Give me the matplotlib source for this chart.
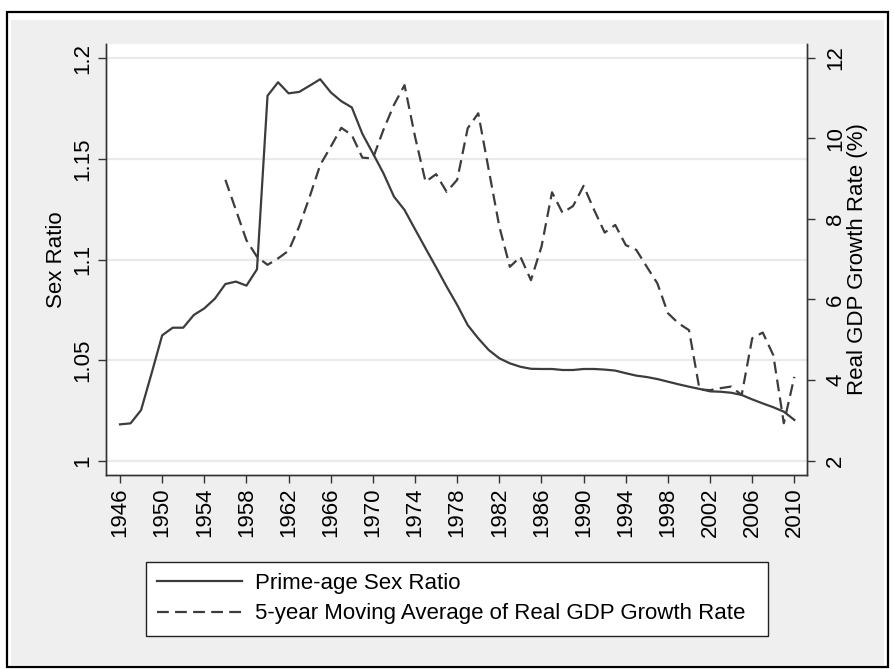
import numpy as np
import matplotlib
matplotlib.use("Agg")
import matplotlib.pyplot as plt
from matplotlib.patches import Rectangle
from matplotlib.lines import Line2D

plt.rcParams['font.family'] = ['Liberation Sans', 'DejaVu Sans']
plt.rcParams['lines.scale_dashes'] = False

years = list(range(1946, 2011))
sex_ratio = [1.0182, 1.0187, 1.0253, 1.0436, 1.0624, 1.0662, 1.0662, 1.0725, 1.0758, 1.0806,
             1.0879, 1.0891, 1.0871, 1.0952, 1.1814, 1.1881, 1.1826, 1.1833, 1.1864, 1.1896,
             1.1831, 1.1787, 1.1756, 1.1625, 1.1528, 1.1429, 1.1313, 1.1247, 1.1151, 1.1056,
             1.0962, 1.0866, 1.0775, 1.0675, 1.0609, 1.0551, 1.0510, 1.0485, 1.0468, 1.0458,
             1.0457, 1.0457, 1.0452, 1.0452, 1.0457, 1.0457, 1.0454, 1.0449, 1.0436, 1.0424,
             1.0417, 1.0407, 1.0394, 1.0381, 1.0369, 1.0358, 1.0346, 1.0344, 1.0339, 1.0328,
             1.0306, 1.0286, 1.0267, 1.0245, 1.0204]
gdp_years = list(range(1956, 2011))
gdp_ma5 = [8.97, 8.22, 7.47, 7.06, 6.86, 7.02, 7.21, 7.81, 8.55, 9.34,
           9.79, 10.26, 10.08, 9.52, 9.50, 10.21, 10.83, 11.32, 10.04, 8.92,
           9.11, 8.67, 8.97, 10.25, 10.62, 9.21, 7.81, 6.81, 7.06, 6.48,
           7.31, 8.66, 8.15, 8.32, 8.82, 8.22, 7.66, 7.85, 7.35, 7.23,
           6.81, 6.40, 5.66, 5.41, 5.24, 3.77, 3.75, 3.80, 3.84, 3.63,
           5.04, 5.18, 4.62, 2.93, 4.08]
x_ticks = list(range(1946, 2011, 4))
left_ticks = [1, 1.05, 1.1, 1.15, 1.2]
left_tick_labels = ["1", "1.05", "1.1", "1.15", "1.2"]
right_ticks = [2, 4, 6, 8, 10, 12]
label_left = "Sex Ratio"
label_right = "Real GDP Growth Rate (%)"
series_names = ["Prime-age Sex Ratio", "5-year Moving Average of Real GDP Growth Rate"]

W, H = 894, 669
fig = plt.figure(figsize=(W / 100, H / 100), dpi=100)
fig.patch.set_facecolor('white')

def fx(px):
    return px / W

def fy(py):
    return 1 - py / H

# gray background and black frame
fig.add_artist(Rectangle((fx(11), fy(665)), fx(884) - fx(11), fy(20) - fy(665),
                         transform=fig.transFigure, facecolor='#efefef', edgecolor='none', zorder=0))
fig.add_artist(Rectangle((fx(7), fy(667)), fx(888) - fx(7), fy(12) - fy(667),
                         transform=fig.transFigure, facecolor='none', edgecolor='black', lw=1.6, zorder=1))

ax = fig.add_axes([fx(106), fy(475), fx(807) - fx(106), fy(44) - fy(475)])
ax.set_facecolor('white')
ax.set_xlim(1944.67, 2011.2)
ax.set_ylim(0.99305, 1.2071)
ax2 = ax.twinx()
ax2.set_ylim(1.645, 12.34)

line_col = '#3c3c3c'
for y in left_ticks:
    ax.axhline(y, color='#eaeaea', lw=1.6, zorder=0)

ax.plot(years, sex_ratio, color=line_col, lw=1.6, zorder=3)
ax2.plot(gdp_years, gdp_ma5, color=line_col, lw=1.6, dashes=(8.5, 4.5), zorder=3)

spine_col = '#333333'
for a in (ax, ax2):
    a.spines['top'].set_visible(False)
    for s in ('left', 'right', 'bottom'):
        a.spines[s].set_color(spine_col)
        a.spines[s].set_linewidth(1.0)

fs = 16
ax.set_xticks(x_ticks)
ax.set_xticklabels([str(v) for v in x_ticks], rotation=90, fontsize=fs)
ax.set_yticks(left_ticks)
ax.set_yticklabels(left_tick_labels, rotation=90, va='center', fontsize=fs)
ax2.set_yticks(right_ticks)
ax2.set_yticklabels([str(v) for v in right_ticks], rotation=90, va='center', fontsize=fs)
for a in (ax, ax2):
    a.tick_params(axis='both', direction='out', length=6, width=1.0, color=spine_col, pad=3)
ax2.tick_params(axis='y', pad=7)

ax.set_ylabel(label_left, fontsize=fs, labelpad=4)
ax2.set_ylabel(label_right, fontsize=fs, labelpad=1)

handles = [Line2D([], [], color=line_col, lw=1.6),
           Line2D([], [], color=line_col, lw=1.6, dashes=(8.5, 4.5))]
leg = fig.legend(handles, series_names, loc='upper left',
                 bbox_to_anchor=(fx(146), fy(634), fx(768) - fx(146), fy(562) - fy(634)),
                 mode='expand', fontsize=16, frameon=True, fancybox=False,
                 edgecolor='#222222', framealpha=1, borderaxespad=0,
                 handlelength=3.8, handletextpad=0.6, labelspacing=0.42, borderpad=0.5)
leg.get_frame().set_linewidth(1.0)

fig.savefig('out.png', dpi=100, facecolor='white')
